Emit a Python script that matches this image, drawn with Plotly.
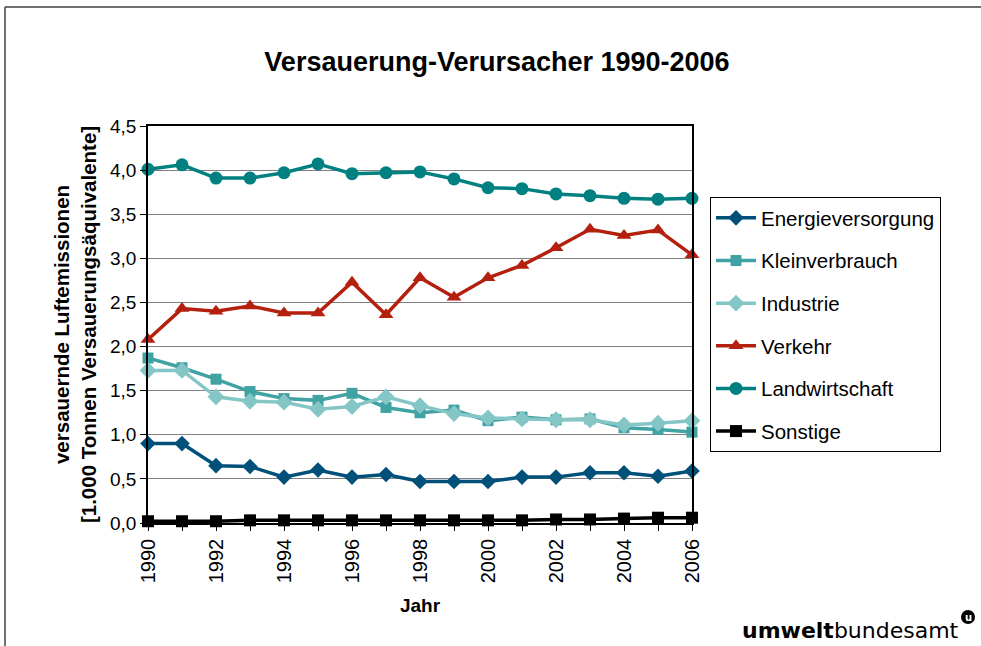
import plotly.graph_objects as go

years = list(range(1990, 2007))

energieversorgung = [0.90, 0.90, 0.65, 0.64, 0.52, 0.60, 0.52, 0.55, 0.47, 0.47, 0.47, 0.52, 0.52, 0.57, 0.57, 0.53, 0.59]
kleinverbrauch = [1.87, 1.76, 1.63, 1.49, 1.41, 1.39, 1.47, 1.31, 1.25, 1.28, 1.16, 1.20, 1.17, 1.18, 1.08, 1.06, 1.03]
industrie = [1.73, 1.73, 1.43, 1.38, 1.37, 1.29, 1.32, 1.43, 1.33, 1.24, 1.19, 1.18, 1.17, 1.17, 1.11, 1.13, 1.16]
verkehr = [2.08, 2.43, 2.40, 2.46, 2.38, 2.38, 2.73, 2.36, 2.78, 2.56, 2.78, 2.92, 3.12, 3.33, 3.26, 3.32, 3.04]
landwirtschaft = [4.01, 4.06, 3.91, 3.91, 3.97, 4.07, 3.96, 3.97, 3.98, 3.90, 3.80, 3.79, 3.73, 3.71, 3.68, 3.67, 3.68]
sonstige = [0.02, 0.02, 0.02, 0.03, 0.03, 0.03, 0.03, 0.03, 0.03, 0.03, 0.03, 0.03, 0.04, 0.04, 0.05, 0.06, 0.06]

y_ticks = [0, 0.5, 1.0, 1.5, 2.0, 2.5, 3.0, 3.5, 4.0, 4.5]
x_tick_labels = [str(y) for y in range(1990, 2007, 2)]

series = [
    ("Energieversorgung", energieversorgung, "#00507A", "diamond", 12),
    ("Kleinverbrauch", kleinverbrauch, "#40A2A2", "square", 11),
    ("Industrie", industrie, "#84C6C6", "diamond", 13),
    ("Verkehr", verkehr, "#B4200E", "triangle-up", 13),
    ("Landwirtschaft", landwirtschaft, "#008080", "circle", 13),
    ("Sonstige", sonstige, "#000000", "square", 12),
]

FONT = "Liberation Sans, Arial, sans-serif"

fig = go.Figure()
for i, (name, vals, color, sym, size) in enumerate(series):
    fig.add_trace(go.Scatter(
        x=years, y=vals, name=name, mode="lines+markers",
        line=dict(color=color, width=3.5),
        marker=dict(symbol=sym, size=size, color=color),
        cliponaxis=False, legendgroup=f"g{i}",
    ))

# plot area: x 148..692, y 126..523
L, R, T, B = 148, 692, 126, 523
W, H = 981, 646
pw, ph = R - L, B - T

def px(x):
    return (x - L) / pw

def py(y):
    return (B - y) / ph

fig.update_layout(
    width=W, height=H,
    margin=dict(l=L, r=W - R, t=T, b=H - B, pad=0),
    paper_bgcolor="white", plot_bgcolor="white",
    separators=",.",
    font=dict(family=FONT, size=19, color="black"),
    title=dict(text="<b>Versauerung-Verursacher 1990-2006</b>",
               x=px(497), xref="paper", xanchor="center",
               y=1 - 62 / H, yanchor="middle", font=dict(size=27)),
    showlegend=True,
    legend=dict(x=px(710), y=py(197), xanchor="left", yanchor="top",
                bordercolor="black", borderwidth=1, bgcolor="white",
                font=dict(size=20.5), tracegroupgap=13, itemwidth=40),
    xaxis=dict(range=[1990, 2006], tickmode="array",
               tickvals=list(range(1990, 2007, 2)), ticktext=x_tick_labels,
               tickangle=-90, ticks="outside", ticklen=6, tickcolor="black",
               showline=True, linecolor="black", linewidth=1.5, mirror=True,
               showgrid=False, zeroline=False,
               tickfont=dict(size=20),
               minor=dict(tickvals=years, ticks="outside", ticklen=6, tickcolor="black"),
               title=dict(text="<b>Jahr</b>", font=dict(size=19), standoff=16)),
    yaxis=dict(range=[0, 4.5], tickmode="array", tickvals=y_ticks,
               tickformat=".1f", ticks="outside", ticklen=6, tickcolor="black",
               showline=True, linecolor="black", linewidth=1.5, mirror=True,
               showgrid=True, gridcolor="#808080", gridwidth=1.3, zeroline=False,
               tickfont=dict(size=19),
               title=dict(text="<b>versauernde Luftemissionen<br>[1.000 Tonnen Versauerungsäquivalente]</b>",
                          font=dict(size=20.5), standoff=8)),
)

# outer frame (top and left edges visible)
fig.add_shape(type="line", xref="paper", yref="paper",
              x0=px(5), x1=px(981), y0=py(7), y1=py(7),
              line=dict(color="#404040", width=1.5))
fig.add_shape(type="line", xref="paper", yref="paper",
              x0=px(5), x1=px(5), y0=py(7), y1=py(646),
              line=dict(color="#404040", width=1.5))

# logo
fig.add_annotation(text="<b>umwelt</b>bundesamt", xref="paper", yref="paper",
                   x=px(961), y=py(630), xanchor="right", yanchor="middle",
                   showarrow=False, font=dict(family="DejaVu Sans, sans-serif", size=22, color="black"))
fig.add_shape(type="circle", xref="paper", yref="paper",
              x0=px(961), x1=px(975), y0=py(624), y1=py(610),
              fillcolor="black", line=dict(color="black", width=0))
fig.add_annotation(text="<b>u</b>", xref="paper", yref="paper",
                   x=px(968), y=py(617), xanchor="center", yanchor="middle",
                   showarrow=False, font=dict(family="DejaVu Sans, sans-serif", size=10, color="white"))

fig.write_html("out.html", config={"displayModeBar": False},
               post_script="document.body.style.margin='0px';document.body.style.overflow='hidden';")
